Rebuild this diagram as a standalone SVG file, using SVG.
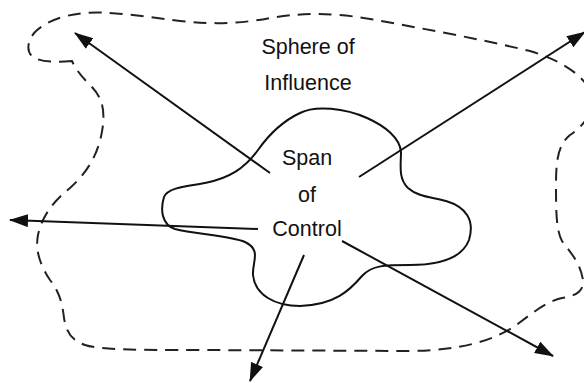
<svg xmlns="http://www.w3.org/2000/svg" width="584" height="383" viewBox="0 0 584 383">
<defs>
<style>
.outline{fill:none;stroke:#222;stroke-width:2;stroke-dasharray:13 8}
.blob{fill:none;stroke:#111;stroke-width:2}
.arrow{fill:none;stroke:#111;stroke-width:2;marker-end:url(#ah)}
.lbl{font-family:"Liberation Sans",Arial,sans-serif;font-size:21.5px;fill:#111;text-anchor:middle}
</style>
<marker id="ah" markerUnits="userSpaceOnUse" markerWidth="20" markerHeight="14" refX="18" refY="6.5" orient="auto">
<path d="M0,0 L19,6.5 L0,13 z" fill="#111"/>
</marker>
</defs>
<rect width="584" height="383" fill="#fff"/>
<g id="sphere-of-influence">
<path class="outline" d="M72,61 C60,62 42,63 33,57 C26,52 27,40 36,31 C46,22 62,15 85,13 C110,11 140,16 180,21 C215,25 245,23 270,18 C300,13 330,12 370,19 C420,28 480,39 530,51 C560,60 585,75 592,95 C595,110 585,125 570,135 C558,145 556,160 556,185 C556,210 556,230 562,241 C570,252 580,262 583,280 C584,292 575,296 562,298 C545,302 530,315 515,326 C490,342 460,350 410,351 L200,350 C140,350 100,350 85,345 C70,340 66,330 64,318 C62,300 58,290 50,280 C40,265 35,250 38,235 C42,215 55,200 70,188 C90,170 100,150 103,125 C105,105 100,95 90,85 C82,77 76,70 72,61 Z"/>
<text class="lbl" x="308" y="54">Sphere of</text>
<text class="lbl" x="308" y="90">Influence</text>
</g>
<g id="span-of-control">
<path class="blob" d="M300,113 C315,105 345,108 367,118 C385,126 400,138 401,152 C401,165 398,178 408,188 C418,197 432,197 446,201 C466,207 475,220 469,240 C462,258 440,265 410,265 C385,265 372,265 362,276 C350,290 335,305 300,306 C275,306 255,295 253,275 C252,262 262,250 245,242 C230,236 195,234 175,229 C162,225 160,210 164,197 C168,187 190,186 205,183 C230,178 245,168 258,150 C270,133 285,120 300,113 Z"/>
<text class="lbl" x="307" y="165">Span</text>
<text class="lbl" x="307" y="202">of</text>
<text class="lbl" x="307" y="236">Control</text>
</g>
<g id="connectors">
<line class="arrow" x1="270" y1="173" x2="75" y2="33"/>
<line class="arrow" x1="359" y1="177" x2="585" y2="32"/>
<line class="arrow" x1="258" y1="229" x2="10" y2="220"/>
<line class="arrow" x1="304" y1="255" x2="250" y2="381"/>
<line class="arrow" x1="342" y1="241" x2="553" y2="356"/>
</g>
</svg>
